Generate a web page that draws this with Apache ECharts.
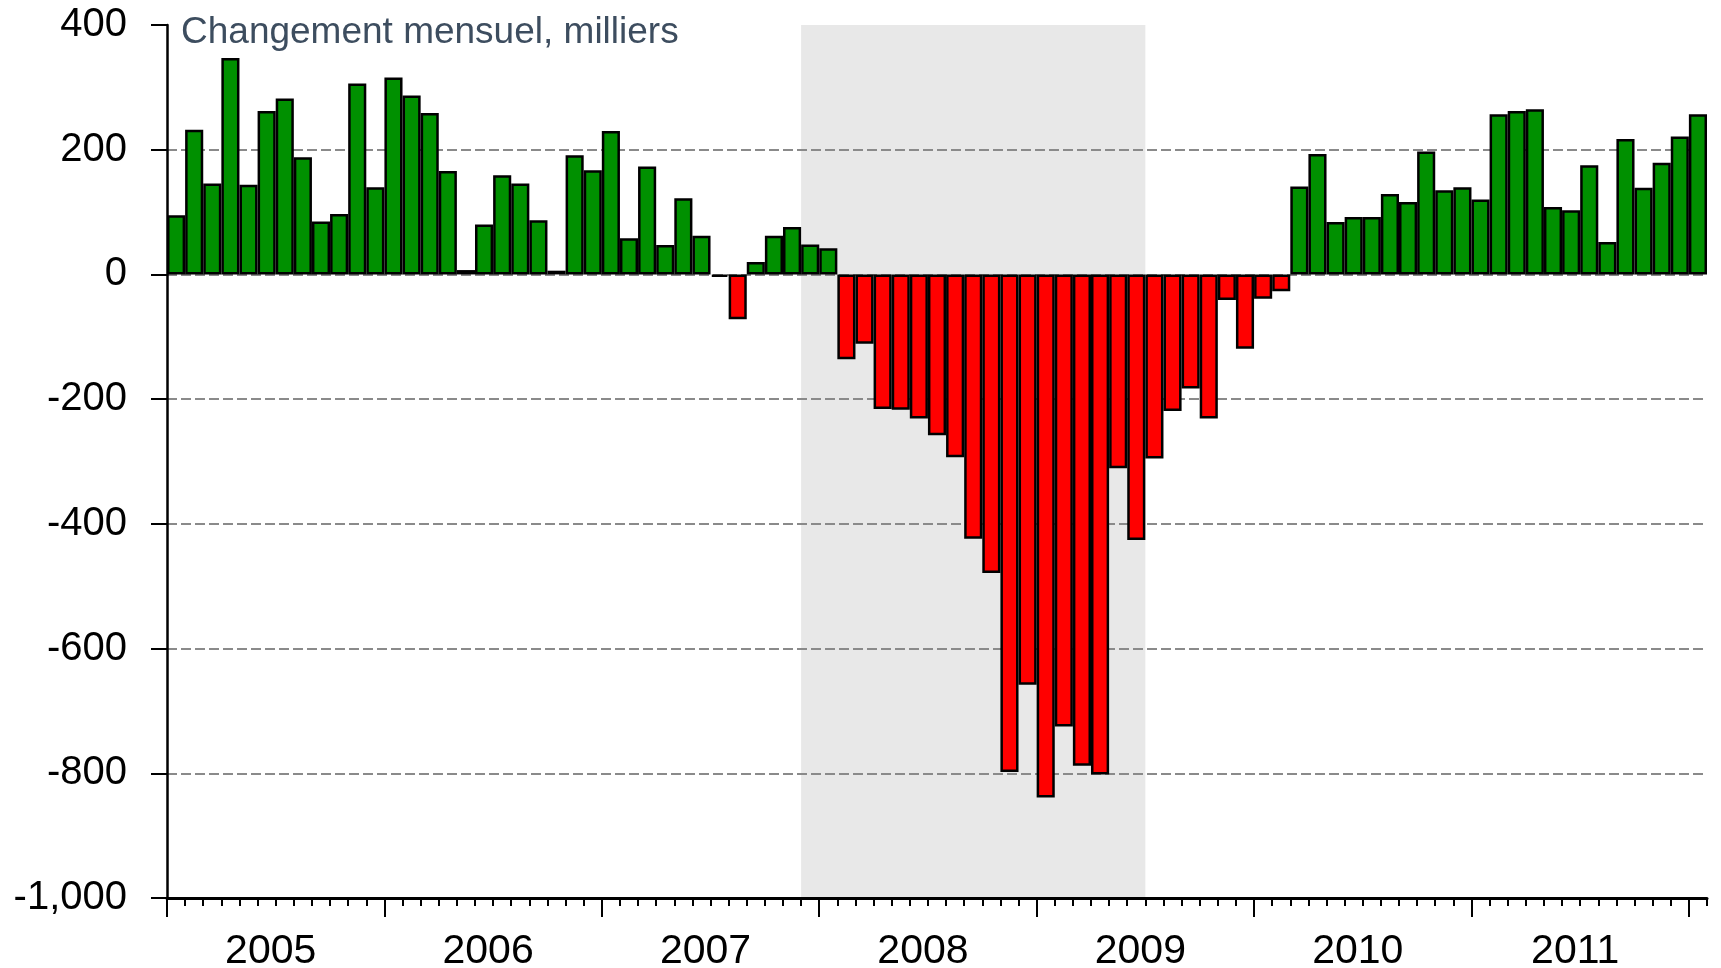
<!DOCTYPE html>
<html>
<head>
<meta charset="utf-8">
<script src="https://cdn.jsdelivr.net/npm/echarts@6/dist/echarts.min.js"></script>
<style>
  html, body { margin: 0; padding: 0; background: #fff; }
  #chart { width: 1721px; height: 968px; }
</style>
</head>
<body>
<div id="chart"></div>
<script>
// Monthly change in payrolls, thousands (Jan 2005 - Jan 2012)
const jobs2005 = [95, 232, 146, 347, 144, 262, 282, 188, 85, 97, 306, 140];
const jobs2006 = [316, 287, 259, 166, 7, 80, 159, 146, 87, 6, 191, 167];
const jobs2007 = [230, 58, 173, 47, 122, 62, -4, -72, 20, 62, 76, 48];
const jobs2008 = [42, -136, -111, -216, -217, -231, -258, -293, -424, -479, -798, -658];
const jobs2009 = [-839, -725, -788, -802, -311, -426, -295, -219, -183, -231, -41, -119];
const jobs2010 = [-39, -27, 141, 193, 84, 92, 92, 129, 116, 197, 135, 140];
const jobs2011 = [120, 257, 262, 265, 108, 103, 175, 52, 217, 139, 179, 221];
const jobs2012 = [257];

const startYear = 2005;
const recession = ['2007-12', '2009-06']; // first and last shaded month

const values = [].concat(jobs2005, jobs2006, jobs2007, jobs2008, jobs2009, jobs2010, jobs2011, jobs2012);

function monthKey(i) {
    const y = startYear + Math.floor(i / 12);
    const m = i % 12 + 1;
    return y + '-' + (m < 10 ? '0' + m : m);
}
const months = values.map((v, i) => monthKey(i));
// month start boundaries, one more than months
const boundaries = months.concat([monthKey(months.length)]);
const recessionEnd = boundaries[months.indexOf(recession[1]) + 1];

const font = 'Liberation Sans, Arial, sans-serif';

const chart = echarts.init(document.getElementById('chart'));
chart.setOption({
    animation: false,
    title: {
        text: 'Changement mensuel, milliers',
        left: 181,
        top: 14,
        padding: 0,
        textStyle: { fontFamily: font, fontSize: 37, fontWeight: 'normal', color: '#3d4d5f' }
    },
    grid: { left: 167, right: 14, top: 25, bottom: 70, outerBoundsMode: 'none' },
    xAxis: [{
        type: 'category',
        data: months,
        boundaryGap: true,
        position: 'bottom',
        z: 3,
        axisLine: { show: true, onZero: false, lineStyle: { color: '#000', width: 3 } },
        axisTick: { show: true, interval: 0, length: 8, lineStyle: { color: '#000', width: 2 } },
        axisLabel: { show: false },
        splitLine: { show: false }
    }, {
        type: 'category',
        data: boundaries,
        boundaryGap: false,
        position: 'bottom',
        z: 3,
        axisLine: { show: false, onZero: false },
        axisTick: {
            show: true,
            interval: (i, v) => v.slice(5) === '01',
            length: 19,
            lineStyle: { color: '#000', width: 2 }
        },
        axisLabel: {
            interval: (i, v) => v.slice(5) === '07',
            formatter: v => v.slice(0, 4),
            margin: 33,
            padding: [0, 10, 0, 0],
            fontFamily: font,
            fontSize: 41,
            color: '#000'
        },
        splitLine: { show: false }
    }],
    yAxis: {
        type: 'value',
        min: -1000,
        max: 400,
        interval: 200,
        z: 1.5,
        axisLine: { show: true, lineStyle: { color: '#000', width: 2.5 } },
        axisTick: { show: true, length: 16, lineStyle: { color: '#000', width: 2 } },
        axisLabel: {
            margin: 40,
            fontFamily: font,
            fontSize: 40,
            color: '#000',
            formatter: v => String(v).replace(/\B(?=(\d{3})+(?!\d))/g, ',')
        },
        splitLine: {
            show: true,
            showMinLine: false,
            showMaxLine: false,
            lineStyle: { color: '#8a8a8a', width: 2, type: [10, 4] }
        }
    },
    series: [{
        type: 'line',
        xAxisIndex: 1,
        data: [],
        silent: true,
        markArea: {
            silent: true,
            z: 1,
            itemStyle: { color: '#e8e8e8' },
            data: [[{ xAxis: recession[0] }, { xAxis: recessionEnd }]]
        }
    }, {
        type: 'bar',
        xAxisIndex: 0,
        data: values,
        barCategoryGap: 0,
        z: 2,
        itemStyle: {
            color: p => p.value < 0 ? '#ff0000' : '#009000',
            borderColor: '#000',
            borderWidth: 2.5
        }
    }]
});
</script>
</body>
</html>
